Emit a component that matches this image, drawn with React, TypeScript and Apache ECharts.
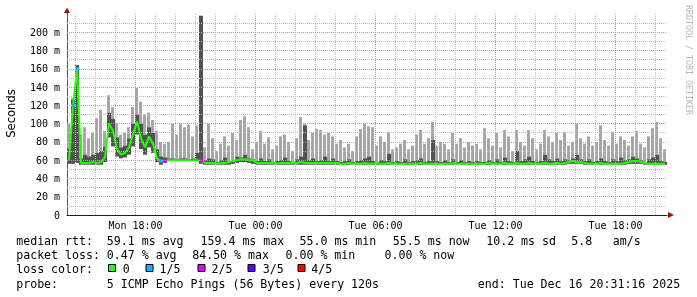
import React, { useEffect, useRef } from 'react';
import * as echarts from 'echarts';

// ---- time axis (hours counted from Monday 00:00) ----
const X_MIN = 14.575;
const X_MAX = 44.575;
const STEP_HOURS = 0.2; // 12 minutes per column
const majorHours = [18, 24, 30, 36, 42];
const majorHourLabels = ['Mon 18:00', 'Tue 00:00', 'Tue 06:00', 'Tue 12:00', 'Tue 18:00'];
const minorHours = [15, 16, 17, 19, 20, 21, 22, 23, 25, 26, 27, 28, 29, 31, 32, 33, 34, 35, 37, 38, 39, 40, 41, 43, 44];

// ---- value axis (ms) ----
const Y_MAX = 221;
const yMajor = [0, 20, 40, 60, 80, 100, 120, 140, 160, 180, 200];
const yMinor = [10, 30, 50, 70, 90, 110, 130, 150, 170, 190, 210];

// ---- data: per 12-minute column ----
const medianRtt = [
  60, 120, 160, 57, 57, 57, 58, 57, 58, 63,
  100, 92, 72, 66, 68, 74, 88, 102, 84, 74,
  86, 78, 62, 59, 59, 60, 60, 60, 60, 60,
  60, 60, 60, 59, 57, 57, 57, 56, 57, 57,
  58, 59, 60, 61, 61, 60, 60, 57, 57, 57,
  57, 57, 56, 57, 57, 57, 57, 57, 58, 57,
  57, 57, 57, 57, 57, 57, 57, 57, 56, 56,
  57, 56, 56, 56, 57, 56, 56, 57, 56, 56,
  57, 56, 56, 56, 56, 56, 56, 56, 57, 56,
  56, 56, 56, 56, 56, 56, 57, 56, 56, 56,
  56, 56, 56, 56, 56, 57, 56, 56, 56, 57,
  56, 56, 57, 56, 56, 57, 56, 56, 56, 57,
  56, 56, 57, 56, 57, 58, 59, 58, 58, 57,
  56, 56, 56, 57, 56, 56, 56, 56, 56, 57,
  58, 59, 59, 58, 57, 56, 56, 56, 56, 56,
];
const lowPing = [
  56, 56, 57, 55, 55, 55, 55, 55, 55, 58,
  85, 75, 64, 62, 63, 66, 75, 88, 72, 66,
  74, 68, 58, 55, 57, 59, 59, 59, 59, 59,
  59, 59, 59, 56, 55, 55, 55, 55, 55, 55,
  55, 56, 57, 58, 58, 57, 56, 55, 55, 55,
  55, 55, 55, 55, 55, 55, 55, 55, 55, 55,
  55, 55, 55, 55, 55, 55, 55, 55, 55, 55,
  55, 55, 55, 55, 55, 55, 55, 55, 55, 55,
  55, 55, 55, 55, 55, 55, 55, 55, 55, 55,
  55, 55, 55, 55, 55, 55, 55, 55, 55, 55,
  55, 55, 55, 55, 55, 55, 55, 55, 55, 55,
  55, 55, 55, 55, 55, 55, 55, 55, 55, 55,
  55, 55, 55, 55, 55, 56, 56, 56, 56, 55,
  55, 55, 55, 55, 55, 55, 55, 55, 55, 55,
  56, 56, 56, 56, 55, 55, 55, 55, 55, 55,
];
const innerPing = [
  73, 126, 164, 62, 66, 64, 66, 68, 70, 75,
  112, 105, 85, 74, 76, 84, 100, 110, 100, 88,
  96, 90, 72, 64, 63, 62, 62, 61, 62, 62,
  61, 62, 68, 218, 60, 62, 61, 58, 60, 63,
  59, 60, 64, 63, 66, 62, 61, 59, 62, 59,
  61, 58, 59, 60, 63, 59, 58, 61, 64, 98,
  60, 62, 59, 60, 64, 59, 62, 59, 58, 59,
  61, 58, 59, 60, 62, 64, 59, 58, 60, 59,
  67, 58, 59, 58, 61, 58, 59, 60, 62, 58,
  59, 82, 59, 58, 60, 58, 61, 58, 60, 58,
  59, 58, 59, 58, 58, 60, 58, 61, 58, 63,
  59, 58, 70, 59, 61, 64, 59, 58, 59, 66,
  61, 59, 62, 59, 61, 60, 62, 66, 61, 59,
  61, 58, 59, 62, 59, 58, 61, 59, 63, 60,
  61, 64, 62, 60, 58, 61, 63, 66, 59, 58,
];
const maxPing = [
  100, 128, 164, 88, 96, 84, 90, 106, 115, 92,
  131, 118, 100, 88, 90, 96, 118, 139, 124, 110,
  112, 104, 92, 80, 78, 80, 100, 88, 100, 96,
  99, 86, 98, 218, 74, 100, 84, 70, 78, 86,
  76, 90, 82, 104, 108, 96, 72, 80, 92, 78,
  85, 72, 76, 86, 88, 80, 70, 84, 107, 100,
  82, 90, 94, 93, 88, 90, 86, 78, 82, 74,
  78, 70, 86, 94, 100, 97, 96, 76, 86, 80,
  91, 72, 74, 78, 82, 72, 76, 88, 93, 78,
  84, 102, 76, 80, 78, 72, 90, 78, 84, 74,
  80, 76, 78, 72, 95, 84, 76, 90, 74, 93,
  86, 70, 93, 80, 76, 93, 84, 72, 78, 93,
  86, 80, 90, 82, 91, 76, 80, 100, 84, 78,
  86, 76, 80, 98, 82, 76, 91, 78, 86, 82,
  76, 86, 92, 78, 74, 86, 95, 102, 84, 72,
];
const lossCount = [
  0, 1, 1, 0, 0, 0, 0, 0, 0, 0,
  0, 0, 0, 0, 0, 0, 0, 0, 0, 0,
  0, 0, 0, 1, 2, 0, 0, 0, 0, 0,
  0, 0, 0, 2, 0, 0, 0, 0, 0, 0,
  0, 0, 0, 0, 0, 0, 0, 0, 0, 0,
  0, 0, 0, 0, 0, 0, 0, 0, 0, 0,
  0, 0, 0, 0, 0, 0, 0, 0, 0, 0,
  0, 0, 0, 0, 0, 0, 0, 0, 0, 0,
  0, 0, 0, 0, 0, 0, 0, 0, 0, 0,
  0, 0, 0, 0, 0, 0, 0, 0, 0, 0,
  0, 0, 0, 0, 0, 0, 0, 0, 0, 0,
  0, 0, 0, 0, 0, 0, 0, 0, 0, 0,
  0, 0, 0, 0, 0, 0, 0, 0, 0, 0,
  0, 0, 0, 0, 0, 0, 0, 0, 0, 0,
  0, 0, 0, 0, 0, 0, 0, 0, 0, 0,
];

// ---- legend ----
const lossColors = ['#20ff00', '#00b8ff', '#dd00ff', '#6200ff', '#ff0000'];
const lossLabels = ['0', '1/5', '2/5', '3/5', '4/5'];
const rttLine = ['median rtt:', '59.1 ms avg', '159.4 ms max', '55.0 ms min', '55.5 ms now', '10.2 ms sd', '5.8', 'am/s'];
const lossLine = ['packet loss:', '0.47 % avg', '84.50 % max', '0.00 % min', '0.00 % now'];
const probeLine = ['probe:', '5 ICMP Echo Pings (56 Bytes) every 120s', 'end: Tue Dec 16 20:31:16 2025'];

const MONO = '"DejaVu Sans Mono", monospace';
const MAJOR_GRID = '#d89494';
const MINOR_GRID = '#bdbdbd';

export default function App() {
  const ref = useRef<HTMLDivElement>(null);

  useEffect(() => {
    if (!ref.current) return;
    const chart = echarts.init(ref.current, null, { renderer: 'svg' });

    const times = medianRtt.map((_, i) => X_MIN + STEP_HOURS * (i + 0.5));
    const smokeData = times.map((t, i) => [t, lowPing[i], innerPing[i], maxPing[i]]);
    const medData = times.map((t, i) => [t, medianRtt[i]]);
    const lossData = times
      .map((t, i) => [t, medianRtt[i], lossCount[i]])
      .filter((d) => d[2] > 0);

    const gridLines: any[] = [];
    minorHours.forEach((h) => gridLines.push({ xAxis: h, lineStyle: { color: MINOR_GRID, width: 1, type: 'dotted' } }));
    yMinor.forEach((v) => gridLines.push({ yAxis: v, lineStyle: { color: MINOR_GRID, width: 1, type: 'dotted' } }));
    majorHours.forEach((h) => gridLines.push({ xAxis: h, lineStyle: { color: MAJOR_GRID, width: 1, type: 'dotted' } }));
    yMajor
      .filter((v) => v > 0)
      .forEach((v) => gridLines.push({ yAxis: v, lineStyle: { color: MAJOR_GRID, width: 1, type: 'dotted' } }));

    const legendFont = `11.6px ${MONO}`;
    const txt = (x: number, y: number, text: string) => ({
      type: 'text',
      x,
      y,
      silent: true,
      style: { text, font: legendFont, fill: '#000', align: 'left', verticalAlign: 'middle' },
    });

    const rttX = [16.2, 106.8, 200.5, 299.5, 392.8, 486.2, 571.2, 612.8];
    const lossX = [16.2, 106.8, 192.2, 285.5, 384.5];
    const probeX = [16.2, 106.8, 477.8];
    const boxX = [108.5, 146, 198, 248, 298];
    const boxLabelX = [122.8, 159.5, 211.5, 262.8, 311.2];

    const graphic: any[] = [];
    rttLine.forEach((s, k) => graphic.push(txt(rttX[k], 240.5, s)));
    lossLine.forEach((s, k) => graphic.push(txt(lossX[k], 254.5, s)));
    graphic.push(txt(16.2, 268.8, 'loss color:'));
    lossColors.forEach((c, k) => {
      graphic.push({
        type: 'rect',
        silent: true,
        shape: { x: boxX[k], y: 264.5, width: 7, height: 7 },
        style: { fill: c, stroke: '#000', lineWidth: 1 },
      });
      graphic.push(txt(boxLabelX[k], 268.8, lossLabels[k]));
    });
    probeLine.forEach((s, k) => graphic.push(txt(probeX[k], 283.8, s)));
    graphic.push({
      type: 'text',
      x: 11,
      y: 113.5,
      rotation: Math.PI / 2,
      silent: true,
      style: { text: 'Seconds', font: '11.6px "DejaVu Sans", sans-serif', fill: '#000', align: 'center', verticalAlign: 'middle' },
    });
    graphic.push({
      type: 'text',
      x: 688.5,
      y: 60,
      rotation: -Math.PI / 2,
      silent: true,
      style: { text: 'RRDTOOL / TOBI OETIKER', font: `8.3px ${MONO}`, fill: '#b8b8b8', align: 'center', verticalAlign: 'middle' },
    });
    graphic.push({
      type: 'polygon',
      silent: true,
      shape: { points: [[64, 13], [70, 13], [67, 7.5]] },
      style: { fill: '#a01010' },
    });
    graphic.push({
      type: 'polygon',
      silent: true,
      shape: { points: [[668, 212], [668, 218], [674, 215]] },
      style: { fill: '#a01010' },
    });

    const option: any = {
      animation: false,
      grid: { left: 67, top: 13, width: 600, height: 202 },
      xAxis: {
        type: 'value',
        min: X_MIN,
        max: X_MAX,
        axisLine: { show: true, onZero: false, lineStyle: { color: '#1f1f1f', width: 1 } },
        axisTick: { show: false, customValues: majorHours },
        axisLabel: {
          customValues: majorHours,
          formatter: (v: number) => majorHourLabels[majorHours.indexOf(Math.round(v))] ?? '',
          fontFamily: MONO,
          fontSize: 10,
          color: '#000',
          margin: 5,
        },
        splitLine: { show: false },
      },
      yAxis: {
        type: 'value',
        min: 0,
        max: Y_MAX,
        axisLine: { show: true, onZero: false, lineStyle: { color: '#555', width: 1 } },
        axisTick: { show: false, customValues: yMajor },
        axisLabel: {
          customValues: yMajor,
          formatter: (v: number) => (v === 0 ? '0' : `${v} m`),
          fontFamily: MONO,
          fontSize: 10,
          color: '#000',
          margin: 7,
        },
        splitLine: { show: false },
      },
      series: [
        {
          type: 'line',
          name: 'grid',
          z: 1,
          data: [[X_MIN, -10]],
          symbol: 'none',
          lineStyle: { opacity: 0 },
          markLine: {
            silent: true,
            symbol: ['none', 'none'],
            label: { show: false },
            data: gridLines,
          },
        },
        {
          type: 'custom',
          name: 'smoke',
          z: 2,
          encode: { x: 0, y: [1, 2, 3] },
          data: smokeData,
          renderItem: (params: any, api: any) => {
            const t = api.value(0);
            const pLo = api.coord([t, api.value(1)]);
            const pDk = api.coord([t, api.value(2)]);
            const pHi = api.coord([t, api.value(3)]);
            const w = api.size([STEP_HOURS, 0])[0];
            const x0 = pLo[0] - w / 2;
            return {
              type: 'group',
              children: [
                {
                  type: 'rect',
                  shape: { x: x0, y: pHi[1], width: w - 1, height: Math.max(0, pDk[1] - pHi[1]) },
                  style: { fill: '#a6a6a6', stroke: null, lineWidth: 0 },
                },
                {
                  type: 'rect',
                  shape: { x: x0, y: pDk[1], width: w, height: Math.max(0, pLo[1] - pDk[1]) },
                  style: { fill: '#525252', stroke: null, lineWidth: 0 },
                },
              ],
            };
          },
        },
        {
          type: 'line',
          name: 'median',
          z: 3,
          data: medData,
          symbol: 'none',
          lineStyle: { color: lossColors[0], width: 2 },
        },
        {
          type: 'custom',
          name: 'loss',
          z: 4,
          encode: { x: 0, y: 1 },
          data: lossData,
          renderItem: (params: any, api: any) => {
            const p = api.coord([api.value(0), api.value(1)]);
            const w = api.size([STEP_HOURS, 0])[0];
            return {
              type: 'rect',
              shape: { x: p[0] - w / 2, y: p[1] - 1.5, width: w, height: 3 },
              style: { fill: lossColors[api.value(2)], stroke: null, lineWidth: 0 },
            };
          },
        },
      ],
      graphic,
    };

    chart.setOption(option);
    return () => chart.dispose();
  }, []);

  return <div ref={ref} style={{ position: 'fixed', left: 0, top: 0, width: 697, height: 297 }} />;
}
